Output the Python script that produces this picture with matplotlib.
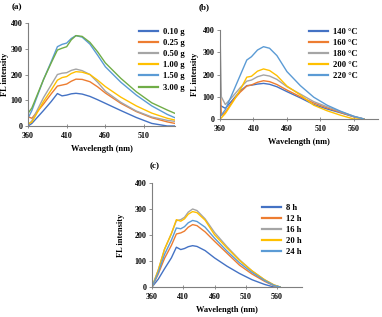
import matplotlib
matplotlib.use("Agg")
import matplotlib.pyplot as plt

plt.rcParams['font.family'] = ['Liberation Serif', 'DejaVu Serif']
plt.rcParams['font.weight'] = 'bold'

colors = ['#4472C4', '#ED7D31', '#A5A5A5', '#FFC000', '#5B9BD5', '#70AD47']

# (a) amount of precursor
wl_a = [360, 365, 380, 390, 398, 404, 410, 416, 422, 430, 440, 450, 460, 480, 500, 520, 540, 550]
labels_a = ['0.10 g', '0.25 g', '0.50 g', '1.00 g', '1.50 g', '3.00 g']
vals_a = [
    [0, 10, 60, 95, 126, 117, 120, 125, 127, 124, 115, 102, 88, 60, 33, 10, 0, 0],
    [36, 30, 85, 125, 155, 159, 163, 174, 182, 181, 172, 152, 128, 88, 56, 32, 16, 10],
    [4, 20, 110, 160, 200, 205, 207, 216, 221, 215, 200, 170, 135, 92, 58, 35, 22, 18],
    [8, 15, 95, 140, 178, 188, 192, 204, 211, 209, 200, 178, 153, 112, 78, 50, 30, 23],
    [30, 60, 180, 250, 308, 317, 322, 340, 351, 345, 318, 275, 230, 170, 120, 78, 45, 32],
    [49, 70, 180, 245, 295, 302, 308, 335, 351, 348, 325, 288, 245, 185, 133, 90, 62, 49],
]

# (b) temperature
wl_b = [360, 362, 368, 380, 390, 400, 407, 416, 425, 434, 445, 460, 480, 500, 520, 540, 560, 575]
labels_b = ['140 °C', '160 °C', '180 °C', '200 °C', '220 °C']
vals_b = [
    [62, 58, 48, 90, 125, 150, 152, 157, 160, 156, 145, 123, 95, 65, 45, 28, 10, 0],
    [190, 15, 30, 85, 120, 148, 153, 165, 172, 168, 155, 130, 100, 72, 50, 30, 10, 0],
    [400, 100, 65, 105, 140, 170, 175, 190, 198, 193, 178, 145, 112, 78, 55, 33, 12, 0],
    [0, 5, 25, 80, 130, 188, 192, 215, 225, 218, 195, 148, 108, 62, 37, 17, 0, 0],
    [12, 18, 42, 125, 195, 265, 280, 310, 325, 318, 285, 213, 150, 98, 62, 35, 12, 0],
]

# (c) reaction time
wl_c = [360, 370, 380, 391, 399, 406, 412, 418, 425, 432, 445, 460, 480, 500, 520, 540, 555, 565]
labels_c = ['8 h', '12 h', '16 h', '20 h', '24 h']
vals_c = [
    [0, 30, 70, 112, 153, 144, 148, 155, 159, 156, 140, 112, 80, 52, 28, 10, 0, 0],
    [0, 50, 110, 160, 204, 208, 215, 230, 240, 236, 212, 176, 130, 84, 50, 22, 5, 0],
    [0, 65, 145, 205, 255, 259, 268, 288, 300, 294, 262, 210, 155, 105, 62, 28, 8, 0],
    [0, 65, 145, 205, 259, 253, 262, 280, 290, 286, 257, 201, 150, 102, 62, 28, 8, 0],
    [0, 55, 125, 180, 227, 224, 232, 247, 256, 252, 230, 188, 138, 93, 56, 25, 6, 0],
]

W, H = 382, 317
fig = plt.figure(figsize=(W / 100, H / 100), dpi=100)


def make_ax(l, r, t, b):
    # pixel box -> figure fraction
    return fig.add_axes([l / W, 1 - b / H, (r - l) / W, (b - t) / H])


def style(ax, xmax, tag, legend_pos, ylab_x):
    ax.set_xlim(360, xmax)
    ax.set_ylim(0, 400)
    ax.set_xticks([t for t in [360, 410, 460, 510, 560] if t <= xmax])
    ax.set_yticks([0, 100, 200, 300, 400])
    for s in ['top', 'right']:
        ax.spines[s].set_visible(False)
    for s in ['left', 'bottom']:
        ax.spines[s].set_color('#7f7f7f')
        ax.spines[s].set_linewidth(0.8)
    ax.tick_params(axis='x', direction='inout', length=3, width=0.6, color='#7f7f7f',
                   labelsize=5.8, pad=2.5)
    ax.tick_params(axis='y', direction='out', length=2, width=0.6, color='#7f7f7f',
                   labelsize=5.8, pad=2)
    ax.set_xlabel('Wavelength (nm)', fontsize=6, fontweight='bold', labelpad=4)
    ax.set_ylabel('FL intensity', fontsize=6, fontweight='bold')
    ax.yaxis.set_label_coords(ylab_x, 0.5)
    ax.text(*tag[1], tag[0], transform=fig.transFigure, fontsize=6.5, fontweight='bold',
            ha='center', va='center')
    leg = ax.legend(loc='upper left', bbox_to_anchor=legend_pos, bbox_transform=fig.transFigure,
                    frameon=False, fontsize=6.2, handlelength=2.2, handletextpad=0.6,
                    labelspacing=0.35, borderpad=0)
    for h in leg.get_lines():
        h.set_linewidth(1.6)


# panel (a)
ax_a = make_ax(28, 175, 23, 126)
for v, lab, c in zip(vals_a, labels_a, colors):
    ax_a.plot(wl_a, v, color=c, lw=1.0, label=lab)
style(ax_a, 550, ('(a)', (17 / W, 1 - 7 / H)), (135 / W, 1 - 24 / H), (9 - 28) / 147)

# panel (b)
ax_b = make_ax(220, 378, 30, 119)
for v, lab, c in zip(vals_b, labels_b, colors):
    ax_b.plot(wl_b, v, color=c, lw=1.0, label=lab)
style(ax_b, 596, ('(b)', (204 / W, 1 - 7 / H)), (305 / W, 1 - 24 / H), (199 - 220) / 158)

# panel (c)
ax_c = make_ax(152, 302, 183, 287)
for v, lab, c in zip(vals_c, labels_c, colors):
    ax_c.plot(wl_c, v, color=c, lw=1.0, label=lab)
style(ax_c, 600, ('(c)', (155 / W, 1 - 166 / H)), (258 / W, 1 - 200 / H), (125 - 152) / 150)

fig.savefig('out.png', dpi=100)
